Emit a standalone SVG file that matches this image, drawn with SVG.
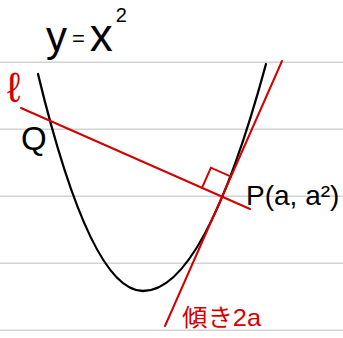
<svg xmlns="http://www.w3.org/2000/svg" width="343" height="338" viewBox="0 0 343 338">
<style>
.rule{stroke:#d3d3d3;stroke-width:1.6;fill:none}
.blk{stroke:#000;stroke-width:2.3;fill:none;stroke-linecap:round}
.red{stroke:#d40000;stroke-width:2;fill:none;stroke-linecap:round}
.tb{font-family:"Liberation Sans","Noto Sans",sans-serif;fill:#000}
.tr{font-family:"Liberation Sans","Noto Sans CJK JP",sans-serif;fill:#d40000}
</style>
<rect width="343" height="338" fill="#fff"/>
<g id="ruled-lines">
<line class="rule" x1="0" y1="62.3" x2="343" y2="62.3"/>
<line class="rule" x1="0" y1="129.3" x2="343" y2="129.3"/>
<line class="rule" x1="0" y1="196.3" x2="343" y2="196.3"/>
<line class="rule" x1="0" y1="263.3" x2="343" y2="263.3"/>
<line class="rule" x1="0" y1="330.3" x2="343" y2="330.3"/>
</g>
<g id="parabola">
<path class="blk" d="M38,74 Q90.5,291 143,291 Q204.5,291 266,64"/>
</g>
<g id="connectors">
<line id="normal-l" class="red" x1="21" y1="108" x2="250" y2="209"/>
<line id="tangent" class="red" x1="165" y1="326" x2="282" y2="61"/>
<polyline id="right-angle" class="red" points="202,187.8 210.9,167.7 231,176.6"/>
</g>
<g id="label-eq">
<text class="tb" x="46" y="51" font-size="42">y<tspan font-size="22" dx="5" dy="-5">=</tspan><tspan font-size="46" dx="5" dy="5">x</tspan><tspan font-size="20" dx="3" dy="-29">2</tspan></text>
</g>
<g id="label-l">
<text class="tr" x="7" y="102" font-size="42" font-family="DejaVu Sans,sans-serif">ℓ</text>
</g>
<g id="label-Q">
<text class="tb" x="21" y="150" font-size="33">Q</text>
</g>
<g id="label-P">
<text class="tb" x="246" y="205" font-size="28">P(a, a²)</text>
</g>
<g id="label-slope">
<text class="tr" x="182" y="326" font-size="24" textLength="79" lengthAdjust="spacingAndGlyphs">傾き2a</text>
</g>
</svg>
